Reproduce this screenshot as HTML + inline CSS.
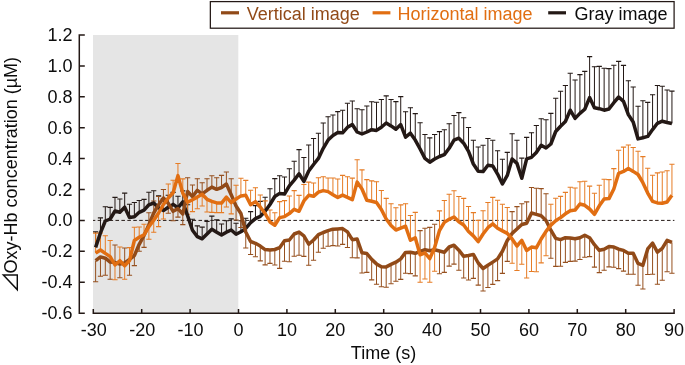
<!DOCTYPE html>
<html><head><meta charset="utf-8"><title>Oxy-Hb concentration</title>
<style>html,body{margin:0;padding:0;background:#fff;overflow:hidden}body{width:685px;height:365px;position:relative}</style></head>
<body>
<svg width="685" height="365" viewBox="0 0 685 365" style="display:block;position:absolute;left:0;top:0">
<rect x="0" y="0" width="685" height="365" fill="#ffffff"/>
<rect x="93" y="35.0" width="145.3" height="278.3" fill="#e5e5e5"/>
<line x1="93" y1="220.4" x2="674.4" y2="220.4" stroke="#231815" stroke-width="1.0" stroke-dasharray="3.55 2.38" stroke-dashoffset="1.24"/>
<path d="M95.62 247.4V231.9M100.46 232.9V217.9M105.31 221.0V206.8M110.15 219.0V207.4M114.99 211.0V197.4M119.84 212.2V199.0M124.68 207.2V193.1M129.52 217.5V204.2M134.36 216.8V202.5M139.21 212.3V200.5M144.05 210.1V199.4M148.89 204.8V192.3M153.74 203.0V190.8M158.58 207.8V195.8M163.42 210.6V198.6M168.26 207.3V195.3M173.11 204.4V192.4M177.95 207.8V196.2M182.79 201.9V190.9M187.64 215.8V204.8M192.48 230.3V219.3M197.32 236.6V225.9M202.17 238.8V227.1M207.01 234.0V221.4M211.85 229.3V216.1M216.69 232.2V219.9M221.54 235.1V224.0M226.38 232.2V220.8M231.22 230.0V218.9M236.07 234.2V223.2M240.91 231.8V220.8M245.75 228.3V218.2M250.60 222.7V211.6M255.44 218.6V205.6M260.28 216.4V201.4M265.12 211.2V197.2M269.97 204.5V188.7M274.81 196.5V178.6M279.65 193.4V175.7M284.50 194.0V177.0M289.34 185.8V168.8M294.18 180.1V161.3M299.03 173.8V149.6M303.87 181.4V157.5M308.71 171.0V145.0M313.56 164.5V138.5M318.40 158.4V133.2M323.24 148.3V123.0M328.08 140.1V116.7M332.93 135.5V115.0M337.77 132.6V111.6M342.61 132.8V110.2M347.46 127.3V103.3M352.30 124.5V101.0M357.14 132.0V108.8M361.99 134.0V109.8M366.83 132.0V106.0M371.67 129.7V101.7M376.51 130.4V102.2M381.36 127.2V99.5M386.20 123.0V95.9M391.04 125.9V99.5M395.89 129.2V101.6M400.73 124.6V96.6M405.57 137.1V111.7M410.42 133.2V107.7M415.26 140.1V113.6M420.10 149.0V122.8M424.94 158.4V134.5M429.79 162.2V137.9M434.63 159.0V134.5M439.47 156.5V131.6M444.32 154.6V129.8M449.16 148.3V123.7M454.00 140.1V115.5M458.85 138.2V112.6M463.69 143.2V117.7M468.53 151.4V127.5M473.37 164.0V140.3M478.22 171.3V147.0M483.06 171.6V145.3M487.90 165.3V138.5M492.75 165.9V140.3M497.59 174.1V150.8M502.43 184.0V159.2M507.27 175.4V152.4M512.12 159.0V133.7M516.96 163.4V140.3M521.80 178.3V158.1M526.65 158.8V137.4M531.49 157.3V132.7M536.33 152.5V125.5M541.18 145.2V118.7M546.02 148.0V119.8M550.86 144.0V113.4M555.70 131.5V98.2M560.55 126.2V91.2M565.39 121.5V85.5M570.23 110.2V73.3M575.08 118.4V80.0M579.92 113.4V74.6M584.76 109.2V71.4M589.61 97.6V56.6M594.45 107.7V66.7M599.29 108.7V66.4M604.13 110.2V68.3M608.98 109.0V68.6M613.82 102.7V65.2M618.66 97.0V61.4M623.51 101.4V65.4M628.35 114.6V80.7M633.19 122.0V87.0M638.04 138.9V106.2M642.88 137.7V100.8M647.72 136.4V102.4M652.57 129.6V94.7M657.41 123.3V85.5M662.25 121.2V86.3M667.09 122.5V90.0M671.94 123.5V91.1" fill="none" stroke="#231815" stroke-width="1.0"/><path d="M93.02 231.9H98.22M97.86 217.9H103.06M102.71 206.8H107.91M107.55 207.4H112.75M112.39 197.4H117.59M117.24 199.0H122.44M122.08 193.1H127.28M126.92 204.2H132.12M131.76 202.5H136.96M136.61 200.5H141.81M141.45 199.4H146.65M146.29 192.3H151.49M151.14 190.8H156.34M155.98 195.8H161.18M160.82 198.6H166.02M165.66 195.3H170.86M170.51 192.4H175.71M175.35 196.2H180.55M180.19 190.9H185.39M185.04 204.8H190.24M189.88 219.3H195.08M194.72 225.9H199.92M199.57 227.1H204.77M204.41 221.4H209.61M209.25 216.1H214.45M214.09 219.9H219.29M218.94 224.0H224.14M223.78 220.8H228.98M228.62 218.9H233.82M233.47 223.2H238.67M238.31 220.8H243.51M243.15 218.2H248.35M248.00 211.6H253.20M252.84 205.6H258.04M257.68 201.4H262.88M262.52 197.2H267.73M267.37 188.7H272.57M272.21 178.6H277.41M277.05 175.7H282.25M281.90 177.0H287.10M286.74 168.8H291.94M291.58 161.3H296.78M296.43 149.6H301.63M301.27 157.5H306.47M306.11 145.0H311.31M310.95 138.5H316.16M315.80 133.2H321.00M320.64 123.0H325.84M325.48 116.7H330.68M330.33 115.0H335.53M335.17 111.6H340.37M340.01 110.2H345.21M344.86 103.3H350.06M349.70 101.0H354.90M354.54 108.8H359.74M359.38 109.8H364.59M364.23 106.0H369.43M369.07 101.7H374.27M373.91 102.2H379.11M378.76 99.5H383.96M383.60 95.9H388.80M388.44 99.5H393.64M393.29 101.6H398.49M398.13 96.6H403.33M402.97 111.7H408.17M407.81 107.7H413.02M412.66 113.6H417.86M417.50 122.8H422.70M422.34 134.5H427.54M427.19 137.9H432.39M432.03 134.5H437.23M436.87 131.6H442.07M441.72 129.8H446.92M446.56 123.7H451.76M451.40 115.5H456.60M456.25 112.6H461.45M461.09 117.7H466.29M465.93 127.5H471.13M470.77 140.3H475.97M475.62 147.0H480.82M480.46 145.3H485.66M485.30 138.5H490.50M490.15 140.3H495.35M494.99 150.8H500.19M499.83 159.2H505.03M504.67 152.4H509.88M509.52 133.7H514.72M514.36 140.3H519.56M519.20 158.1H524.40M524.05 137.4H529.25M528.89 132.7H534.09M533.73 125.5H538.93M538.58 118.7H543.78M543.42 119.8H548.62M548.26 113.4H553.46M553.10 98.2H558.30M557.95 91.2H563.15M562.79 85.5H567.99M567.63 73.3H572.83M572.48 80.0H577.68M577.32 74.6H582.52M582.16 71.4H587.36M587.01 56.6H592.21M591.85 66.7H597.05M596.69 66.4H601.89M601.53 68.3H606.74M606.38 68.6H611.58M611.22 65.2H616.42M616.06 61.4H621.26M620.91 65.4H626.11M625.75 80.7H630.95M630.59 87.0H635.79M635.44 106.2H640.64M640.28 100.8H645.48M645.12 102.4H650.32M649.97 94.7H655.17M654.81 85.5H660.01M659.65 86.3H664.85M664.49 90.0H669.69M669.34 91.1H674.54" fill="none" stroke="#231815" stroke-width="1.1"/>
<path d="M95.62 260.7V281.8M100.46 256.9V276.2M105.31 258.2V275.2M110.15 262.0V279.3M114.99 262.5V245.0M119.84 264.0V277.7M124.68 263.0V248.0M129.52 259.5V275.2M134.36 255.6V265.6M139.21 244.3V251.3M144.05 235.4V247.4M148.89 224.7V212.7M153.74 213.0V201.0M158.58 204.7V196.5M163.42 198.0V189.5M168.26 203.3V213.3M173.11 211.3V220.8M177.95 208.6V217.1M182.79 214.0V224.6M187.64 191.5V177.7M192.48 196.6V185.0M197.32 190.3V178.7M202.17 193.8V182.7M207.01 190.3V178.7M211.85 187.1V175.8M216.69 189.3V177.7M221.54 187.5V175.4M226.38 184.0V172.0M231.22 194.7V178.7M236.07 206.0V220.0M240.91 213.5V227.5M245.75 232.0V248.0M250.60 241.5V254.5M255.44 243.3V256.7M260.28 246.1V260.9M265.12 249.6V264.9M269.97 250.0V263.4M274.81 249.5V265.0M279.65 247.7V268.4M284.50 240.8V261.2M289.34 240.0V261.7M294.18 234.0V256.2M299.03 232.1V255.2M303.87 235.9V256.4M308.71 244.2V265.3M313.56 240.0V260.2M318.40 234.7V252.3M323.24 232.5V248.2M328.08 230.7V246.2M332.93 229.2V245.6M337.77 228.9V246.0M342.61 228.6V244.4M347.46 231.9V247.5M352.30 239.7V257.7M357.14 239.0V257.9M361.99 252.8V273.0M366.83 253.5V272.4M371.67 259.4V279.9M376.51 263.9V284.3M381.36 266.7V286.8M386.20 266.9V287.2M391.04 264.4V283.7M395.89 262.2V281.3M400.73 258.9V279.4M405.57 252.4V273.3M410.42 252.3V273.6M415.26 253.3V275.9M420.10 251.3V230.6M424.94 249.7V228.3M429.79 250.8V227.4M434.63 249.7V224.3M439.47 251.0V273.7M444.32 252.3V272.4M449.16 247.0V266.1M454.00 245.2V264.1M458.85 250.2V270.2M463.69 256.3V278.0M468.53 255.5V280.0M473.37 254.4V278.4M478.22 263.0V285.1M483.06 268.5V291.0M487.90 265.2V287.5M492.75 262.1V284.4M497.59 258.9V280.6M502.43 251.3V273.4M507.27 240.5V261.4M512.12 233.4V211.6M516.96 229.0V206.6M521.80 224.5V203.8M526.65 223.2V201.9M531.49 213.0V187.5M536.33 214.4V188.2M541.18 215.8V188.6M546.02 220.5V193.7M550.86 230.2V258.2M555.70 238.4V266.4M560.55 239.6V266.2M565.39 237.7V262.4M570.23 238.0V261.4M575.08 238.7V261.1M579.92 237.7V259.5M584.76 235.2V257.2M589.61 237.7V256.6M594.45 244.7V267.1M599.29 250.3V272.6M604.13 249.2V270.3M608.98 246.4V266.9M613.82 247.0V267.3M618.66 249.2V268.6M623.51 250.4V271.1M628.35 253.3V274.2M633.19 253.3V274.2M638.04 263.4V285.2M642.88 265.3V289.0M647.72 248.9V274.5M652.57 243.2V274.2M657.41 252.1V284.2M662.25 248.3V280.2M667.09 240.3V271.7M671.94 242.4V273.2" fill="none" stroke="#96501f" stroke-width="1.0"/><path d="M93.02 281.8H98.22M97.86 276.2H103.06M102.71 275.2H107.91M107.55 279.3H112.75M112.39 245.0H117.59M117.24 277.7H122.44M122.08 248.0H127.28M126.92 275.2H132.12M131.76 265.6H136.96M136.61 251.3H141.81M141.45 247.4H146.65M146.29 212.7H151.49M151.14 201.0H156.34M155.98 196.5H161.18M160.82 189.5H166.02M165.66 213.3H170.86M170.51 220.8H175.71M175.35 217.1H180.55M180.19 224.6H185.39M185.04 177.7H190.24M189.88 185.0H195.08M194.72 178.7H199.92M199.57 182.7H204.77M204.41 178.7H209.61M209.25 175.8H214.45M214.09 177.7H219.29M218.94 175.4H224.14M223.78 172.0H228.98M228.62 178.7H233.82M233.47 220.0H238.67M238.31 227.5H243.51M243.15 248.0H248.35M248.00 254.5H253.20M252.84 256.7H258.04M257.68 260.9H262.88M262.52 264.9H267.73M267.37 263.4H272.57M272.21 265.0H277.41M277.05 268.4H282.25M281.90 261.2H287.10M286.74 261.7H291.94M291.58 256.2H296.78M296.43 255.2H301.63M301.27 256.4H306.47M306.11 265.3H311.31M310.95 260.2H316.16M315.80 252.3H321.00M320.64 248.2H325.84M325.48 246.2H330.68M330.33 245.6H335.53M335.17 246.0H340.37M340.01 244.4H345.21M344.86 247.5H350.06M349.70 257.7H354.90M354.54 257.9H359.74M359.38 273.0H364.59M364.23 272.4H369.43M369.07 279.9H374.27M373.91 284.3H379.11M378.76 286.8H383.96M383.60 287.2H388.80M388.44 283.7H393.64M393.29 281.3H398.49M398.13 279.4H403.33M402.97 273.3H408.17M407.81 273.6H413.02M412.66 275.9H417.86M417.50 230.6H422.70M422.34 228.3H427.54M427.19 227.4H432.39M432.03 224.3H437.23M436.87 273.7H442.07M441.72 272.4H446.92M446.56 266.1H451.76M451.40 264.1H456.60M456.25 270.2H461.45M461.09 278.0H466.29M465.93 280.0H471.13M470.77 278.4H475.97M475.62 285.1H480.82M480.46 291.0H485.66M485.30 287.5H490.50M490.15 284.4H495.35M494.99 280.6H500.19M499.83 273.4H505.03M504.67 261.4H509.88M509.52 211.6H514.72M514.36 206.6H519.56M519.20 203.8H524.40M524.05 201.9H529.25M528.89 187.5H534.09M533.73 188.2H538.93M538.58 188.6H543.78M543.42 193.7H548.62M548.26 258.2H553.46M553.10 266.4H558.30M557.95 266.2H563.15M562.79 262.4H567.99M567.63 261.4H572.83M572.48 261.1H577.68M577.32 259.5H582.52M582.16 257.2H587.36M587.01 256.6H592.21M591.85 267.1H597.05M596.69 272.6H601.89M601.53 270.3H606.74M606.38 266.9H611.58M611.22 267.3H616.42M616.06 268.6H621.26M620.91 271.1H626.11M625.75 274.2H630.95M630.59 274.2H635.79M635.44 285.2H640.64M640.28 289.0H645.48M645.12 274.5H650.32M649.97 274.2H655.17M654.81 284.2H660.01M659.65 280.2H664.85M664.49 271.7H669.69M669.34 273.2H674.54" fill="none" stroke="#96501f" stroke-width="1.1"/>
<path d="M95.62 253.1V233.1M100.46 250.0V233.0M105.31 253.4V235.7M110.15 256.6V240.5M114.99 265.0V279.8M119.84 260.7V247.0M124.68 265.8V279.3M129.52 260.6V247.6M134.36 240.5V227.2M139.21 237.3V227.0M144.05 234.8V224.3M148.89 226.6V239.2M153.74 220.3V232.3M158.58 213.0V226.6M163.42 204.5V219.0M168.26 198.0V184.0M173.11 192.8V180.2M177.95 175.6V163.5M182.79 193.1V178.9M187.64 202.3V214.3M192.48 199.7V211.6M197.32 197.1V208.8M202.17 194.3V206.0M207.01 199.3V212.0M211.85 201.4V212.4M216.69 202.9V212.6M221.54 203.1V212.6M226.38 197.2V207.0M231.22 202.6V213.9M236.07 199.0V185.2M240.91 195.9V178.2M245.75 195.3V180.4M250.60 204.7V190.2M255.44 201.6V187.7M260.28 207.0V195.0M265.12 213.5V200.9M269.97 222.0V210.0M274.81 225.2V212.8M279.65 217.6V201.6M284.50 216.6V200.6M289.34 213.6V196.0M294.18 209.3V190.6M299.03 211.3V195.4M303.87 200.9V184.5M308.71 195.3V182.1M313.56 196.3V183.0M318.40 192.2V177.7M323.24 190.6V176.7M328.08 191.6V178.0M332.93 194.7V178.0M337.77 197.5V179.0M342.61 195.2V175.4M347.46 197.4V176.7M352.30 199.7V178.1M357.14 182.1V159.8M361.99 189.0V169.9M366.83 200.3V179.6M371.67 201.3V180.9M376.51 202.5V181.7M381.36 209.5V190.5M386.20 219.0V198.4M391.04 225.5V203.7M395.89 230.0V207.7M400.73 228.1V204.9M405.57 226.2V203.7M410.42 240.3V215.5M415.26 237.8V212.4M420.10 254.8V282.2M424.94 252.9V279.0M429.79 258.6V282.2M434.63 247.5V271.2M439.47 230.5V210.9M444.32 222.4V200.5M449.16 219.3V194.2M454.00 217.0V190.7M458.85 221.8V196.5M463.69 225.0V198.4M468.53 231.5V206.5M473.37 235.9V212.6M478.22 241.6V220.4M483.06 234.0V210.7M487.90 227.7V202.5M492.75 223.9V197.4M497.59 228.3V200.3M502.43 230.9V204.3M507.27 233.4V207.5M512.12 239.0V263.3M516.96 246.0V270.5M521.80 240.4V264.2M526.65 250.5V278.0M531.49 247.1V271.5M536.33 247.8V271.7M541.18 239.0V262.9M546.02 231.4V255.7M550.86 225.1V204.3M555.70 220.8V198.3M560.55 217.6V196.4M565.39 213.8V192.4M570.23 210.7V187.2M575.08 210.1V188.0M579.92 204.0V181.7M584.76 205.3V181.3M589.61 209.0V186.1M594.45 214.3V193.3M599.29 205.8V185.2M604.13 199.1V179.2M608.98 198.6V179.6M613.82 189.0V168.6M618.66 173.3V150.3M623.51 171.4V147.1M628.35 168.6V145.0M633.19 171.4V147.5M638.04 174.5V151.3M642.88 182.7V156.6M647.72 193.1V168.2M652.57 201.4V175.2M657.41 202.9V172.9M662.25 203.2V172.0M667.09 202.0V170.8M671.94 195.2V164.2" fill="none" stroke="#e67c25" stroke-width="1.0"/><path d="M93.02 233.1H98.22M97.86 233.0H103.06M102.71 235.7H107.91M107.55 240.5H112.75M112.39 279.8H117.59M117.24 247.0H122.44M122.08 279.3H127.28M126.92 247.6H132.12M131.76 227.2H136.96M136.61 227.0H141.81M141.45 224.3H146.65M146.29 239.2H151.49M151.14 232.3H156.34M155.98 226.6H161.18M160.82 219.0H166.02M165.66 184.0H170.86M170.51 180.2H175.71M175.35 163.5H180.55M180.19 178.9H185.39M185.04 214.3H190.24M189.88 211.6H195.08M194.72 208.8H199.92M199.57 206.0H204.77M204.41 212.0H209.61M209.25 212.4H214.45M214.09 212.6H219.29M218.94 212.6H224.14M223.78 207.0H228.98M228.62 213.9H233.82M233.47 185.2H238.67M238.31 178.2H243.51M243.15 180.4H248.35M248.00 190.2H253.20M252.84 187.7H258.04M257.68 195.0H262.88M262.52 200.9H267.73M267.37 210.0H272.57M272.21 212.8H277.41M277.05 201.6H282.25M281.90 200.6H287.10M286.74 196.0H291.94M291.58 190.6H296.78M296.43 195.4H301.63M301.27 184.5H306.47M306.11 182.1H311.31M310.95 183.0H316.16M315.80 177.7H321.00M320.64 176.7H325.84M325.48 178.0H330.68M330.33 178.0H335.53M335.17 179.0H340.37M340.01 175.4H345.21M344.86 176.7H350.06M349.70 178.1H354.90M354.54 159.8H359.74M359.38 169.9H364.59M364.23 179.6H369.43M369.07 180.9H374.27M373.91 181.7H379.11M378.76 190.5H383.96M383.60 198.4H388.80M388.44 203.7H393.64M393.29 207.7H398.49M398.13 204.9H403.33M402.97 203.7H408.17M407.81 215.5H413.02M412.66 212.4H417.86M417.50 282.2H422.70M422.34 279.0H427.54M427.19 282.2H432.39M432.03 271.2H437.23M436.87 210.9H442.07M441.72 200.5H446.92M446.56 194.2H451.76M451.40 190.7H456.60M456.25 196.5H461.45M461.09 198.4H466.29M465.93 206.5H471.13M470.77 212.6H475.97M475.62 220.4H480.82M480.46 210.7H485.66M485.30 202.5H490.50M490.15 197.4H495.35M494.99 200.3H500.19M499.83 204.3H505.03M504.67 207.5H509.88M509.52 263.3H514.72M514.36 270.5H519.56M519.20 264.2H524.40M524.05 278.0H529.25M528.89 271.5H534.09M533.73 271.7H538.93M538.58 262.9H543.78M543.42 255.7H548.62M548.26 204.3H553.46M553.10 198.3H558.30M557.95 196.4H563.15M562.79 192.4H567.99M567.63 187.2H572.83M572.48 188.0H577.68M577.32 181.7H582.52M582.16 181.3H587.36M587.01 186.1H592.21M591.85 193.3H597.05M596.69 185.2H601.89M601.53 179.2H606.74M606.38 179.6H611.58M611.22 168.6H616.42M616.06 150.3H621.26M620.91 147.1H626.11M625.75 145.0H630.95M630.59 147.5H635.79M635.44 151.3H640.64M640.28 156.6H645.48M645.12 168.2H650.32M649.97 175.2H655.17M654.81 172.9H660.01M659.65 172.0H664.85M664.49 170.8H669.69M669.34 164.2H674.54" fill="none" stroke="#e67c25" stroke-width="1.1"/>
<polyline points="95.62,247.4 100.46,232.9 105.31,221.0 110.15,219.0 114.99,211.0 119.84,212.2 124.68,207.2 129.52,217.5 134.36,216.8 139.21,212.3 144.05,210.1 148.89,204.8 153.74,203.0 158.58,207.8 163.42,210.6 168.26,207.3 173.11,204.4 177.95,207.8 182.79,201.9 187.64,215.8 192.48,230.3 197.32,236.6 202.17,238.8 207.01,234.0 211.85,229.3 216.69,232.2 221.54,235.1 226.38,232.2 231.22,230.0 236.07,234.2 240.91,231.8 245.75,228.3 250.60,222.7 255.44,218.6 260.28,216.4 265.12,211.2 269.97,204.5 274.81,196.5 279.65,193.4 284.50,194.0 289.34,185.8 294.18,180.1 299.03,173.8 303.87,181.4 308.71,171.0 313.56,164.5 318.40,158.4 323.24,148.3 328.08,140.1 332.93,135.5 337.77,132.6 342.61,132.8 347.46,127.3 352.30,124.5 357.14,132.0 361.99,134.0 366.83,132.0 371.67,129.7 376.51,130.4 381.36,127.2 386.20,123.0 391.04,125.9 395.89,129.2 400.73,124.6 405.57,137.1 410.42,133.2 415.26,140.1 420.10,149.0 424.94,158.4 429.79,162.2 434.63,159.0 439.47,156.5 444.32,154.6 449.16,148.3 454.00,140.1 458.85,138.2 463.69,143.2 468.53,151.4 473.37,164.0 478.22,171.3 483.06,171.6 487.90,165.3 492.75,165.9 497.59,174.1 502.43,184.0 507.27,175.4 512.12,159.0 516.96,163.4 521.80,178.3 526.65,158.8 531.49,157.3 536.33,152.5 541.18,145.2 546.02,148.0 550.86,144.0 555.70,131.5 560.55,126.2 565.39,121.5 570.23,110.2 575.08,118.4 579.92,113.4 584.76,109.2 589.61,97.6 594.45,107.7 599.29,108.7 604.13,110.2 608.98,109.0 613.82,102.7 618.66,97.0 623.51,101.4 628.35,114.6 633.19,122.0 638.04,138.9 642.88,137.7 647.72,136.4 652.57,129.6 657.41,123.3 662.25,121.2 667.09,122.5 671.94,123.5" fill="none" stroke="#231815" stroke-width="3.5" stroke-linejoin="round" stroke-linecap="butt"/>
<polyline points="95.62,260.7 100.46,256.9 105.31,258.2 110.15,262.0 114.99,262.5 119.84,264.0 124.68,263.0 129.52,259.5 134.36,255.6 139.21,244.3 144.05,235.4 148.89,224.7 153.74,213.0 158.58,204.7 163.42,198.0 168.26,203.3 173.11,211.3 177.95,208.6 182.79,214.0 187.64,191.5 192.48,196.6 197.32,190.3 202.17,193.8 207.01,190.3 211.85,187.1 216.69,189.3 221.54,187.5 226.38,184.0 231.22,194.7 236.07,206.0 240.91,213.5 245.75,232.0 250.60,241.5 255.44,243.3 260.28,246.1 265.12,249.6 269.97,250.0 274.81,249.5 279.65,247.7 284.50,240.8 289.34,240.0 294.18,234.0 299.03,232.1 303.87,235.9 308.71,244.2 313.56,240.0 318.40,234.7 323.24,232.5 328.08,230.7 332.93,229.2 337.77,228.9 342.61,228.6 347.46,231.9 352.30,239.7 357.14,239.0 361.99,252.8 366.83,253.5 371.67,259.4 376.51,263.9 381.36,266.7 386.20,266.9 391.04,264.4 395.89,262.2 400.73,258.9 405.57,252.4 410.42,252.3 415.26,253.3 420.10,251.3 424.94,249.7 429.79,250.8 434.63,249.7 439.47,251.0 444.32,252.3 449.16,247.0 454.00,245.2 458.85,250.2 463.69,256.3 468.53,255.5 473.37,254.4 478.22,263.0 483.06,268.5 487.90,265.2 492.75,262.1 497.59,258.9 502.43,251.3 507.27,240.5 512.12,233.4 516.96,229.0 521.80,224.5 526.65,223.2 531.49,213.0 536.33,214.4 541.18,215.8 546.02,220.5 550.86,230.2 555.70,238.4 560.55,239.6 565.39,237.7 570.23,238.0 575.08,238.7 579.92,237.7 584.76,235.2 589.61,237.7 594.45,244.7 599.29,250.3 604.13,249.2 608.98,246.4 613.82,247.0 618.66,249.2 623.51,250.4 628.35,253.3 633.19,253.3 638.04,263.4 642.88,265.3 647.72,248.9 652.57,243.2 657.41,252.1 662.25,248.3 667.09,240.3 671.94,242.4" fill="none" stroke="#914a18" stroke-width="3.5" stroke-linejoin="round" stroke-linecap="butt"/>
<polyline points="95.62,253.1 100.46,250.0 105.31,253.4 110.15,256.6 114.99,265.0 119.84,260.7 124.68,265.8 129.52,260.6 134.36,240.5 139.21,237.3 144.05,234.8 148.89,226.6 153.74,220.3 158.58,213.0 163.42,204.5 168.26,198.0 173.11,192.8 177.95,175.6 182.79,193.1 187.64,202.3 192.48,199.7 197.32,197.1 202.17,194.3 207.01,199.3 211.85,201.4 216.69,202.9 221.54,203.1 226.38,197.2 231.22,202.6 236.07,199.0 240.91,195.9 245.75,195.3 250.60,204.7 255.44,201.6 260.28,207.0 265.12,213.5 269.97,222.0 274.81,225.2 279.65,217.6 284.50,216.6 289.34,213.6 294.18,209.3 299.03,211.3 303.87,200.9 308.71,195.3 313.56,196.3 318.40,192.2 323.24,190.6 328.08,191.6 332.93,194.7 337.77,197.5 342.61,195.2 347.46,197.4 352.30,199.7 357.14,182.1 361.99,189.0 366.83,200.3 371.67,201.3 376.51,202.5 381.36,209.5 386.20,219.0 391.04,225.5 395.89,230.0 400.73,228.1 405.57,226.2 410.42,240.3 415.26,237.8 420.10,254.8 424.94,252.9 429.79,258.6 434.63,247.5 439.47,230.5 444.32,222.4 449.16,219.3 454.00,217.0 458.85,221.8 463.69,225.0 468.53,231.5 473.37,235.9 478.22,241.6 483.06,234.0 487.90,227.7 492.75,223.9 497.59,228.3 502.43,230.9 507.27,233.4 512.12,239.0 516.96,246.0 521.80,240.4 526.65,250.5 531.49,247.1 536.33,247.8 541.18,239.0 546.02,231.4 550.86,225.1 555.70,220.8 560.55,217.6 565.39,213.8 570.23,210.7 575.08,210.1 579.92,204.0 584.76,205.3 589.61,209.0 594.45,214.3 599.29,205.8 604.13,199.1 608.98,198.6 613.82,189.0 618.66,173.3 623.51,171.4 628.35,168.6 633.19,171.4 638.04,174.5 642.88,182.7 647.72,193.1 652.57,201.4 657.41,202.9 662.25,203.2 667.09,202.0 671.94,195.2" fill="none" stroke="#e16e12" stroke-width="3.5" stroke-linejoin="round" stroke-linecap="butt"/>
<path d="M93.3 313.3H674.8M93.3 314V308.9M141.7 314V308.9M190.1 314V308.9M238.5 314V308.9M286.9 314V308.9M335.3 314V308.9M383.7 314V308.9M432.1 314V308.9M480.5 314V308.9M528.9 314V308.9M577.3 314V308.9M625.7 314V308.9M674.1 314V308.9" stroke="#231815" stroke-width="1.5" fill="none"/>
<path d="M79.3 34.2V314.05M79.3 313.3H84.8M79.3 282.2H84.8M79.3 251.3H84.8M79.3 220.4H84.8M79.3 189.5H84.8M79.3 158.6H84.8M79.3 127.7H84.8M79.3 96.8H84.8M79.3 65.9H84.8M79.3 35.0H84.8" stroke="#231815" stroke-width="1.5" fill="none"/>
<text x="93.8" y="335.7" text-anchor="middle" font-family="Liberation Sans, Noto Sans CJK JP, sans-serif" font-size="18" fill="#0c0c0c">-30</text>
<text x="142.2" y="335.7" text-anchor="middle" font-family="Liberation Sans, Noto Sans CJK JP, sans-serif" font-size="18" fill="#0c0c0c">-20</text>
<text x="190.6" y="335.7" text-anchor="middle" font-family="Liberation Sans, Noto Sans CJK JP, sans-serif" font-size="18" fill="#0c0c0c">-10</text>
<text x="238.5" y="335.7" text-anchor="middle" font-family="Liberation Sans, Noto Sans CJK JP, sans-serif" font-size="18" fill="#0c0c0c">0</text>
<text x="286.9" y="335.7" text-anchor="middle" font-family="Liberation Sans, Noto Sans CJK JP, sans-serif" font-size="18" fill="#0c0c0c">10</text>
<text x="335.3" y="335.7" text-anchor="middle" font-family="Liberation Sans, Noto Sans CJK JP, sans-serif" font-size="18" fill="#0c0c0c">20</text>
<text x="383.7" y="335.7" text-anchor="middle" font-family="Liberation Sans, Noto Sans CJK JP, sans-serif" font-size="18" fill="#0c0c0c">30</text>
<text x="432.1" y="335.7" text-anchor="middle" font-family="Liberation Sans, Noto Sans CJK JP, sans-serif" font-size="18" fill="#0c0c0c">40</text>
<text x="480.5" y="335.7" text-anchor="middle" font-family="Liberation Sans, Noto Sans CJK JP, sans-serif" font-size="18" fill="#0c0c0c">50</text>
<text x="528.9" y="335.7" text-anchor="middle" font-family="Liberation Sans, Noto Sans CJK JP, sans-serif" font-size="18" fill="#0c0c0c">60</text>
<text x="577.3" y="335.7" text-anchor="middle" font-family="Liberation Sans, Noto Sans CJK JP, sans-serif" font-size="18" fill="#0c0c0c">70</text>
<text x="625.7" y="335.7" text-anchor="middle" font-family="Liberation Sans, Noto Sans CJK JP, sans-serif" font-size="18" fill="#0c0c0c">80</text>
<text x="674.1" y="335.7" text-anchor="middle" font-family="Liberation Sans, Noto Sans CJK JP, sans-serif" font-size="18" fill="#0c0c0c">90</text>
<text x="72.5" y="319.3" text-anchor="end" font-family="Liberation Sans, Noto Sans CJK JP, sans-serif" font-size="18" fill="#0c0c0c">-0.6</text>
<text x="72.5" y="288.2" text-anchor="end" font-family="Liberation Sans, Noto Sans CJK JP, sans-serif" font-size="18" fill="#0c0c0c">-0.4</text>
<text x="72.5" y="257.3" text-anchor="end" font-family="Liberation Sans, Noto Sans CJK JP, sans-serif" font-size="18" fill="#0c0c0c">-0.2</text>
<text x="72.5" y="226.4" text-anchor="end" font-family="Liberation Sans, Noto Sans CJK JP, sans-serif" font-size="18" fill="#0c0c0c">0.0</text>
<text x="72.5" y="195.5" text-anchor="end" font-family="Liberation Sans, Noto Sans CJK JP, sans-serif" font-size="18" fill="#0c0c0c">0.2</text>
<text x="72.5" y="164.6" text-anchor="end" font-family="Liberation Sans, Noto Sans CJK JP, sans-serif" font-size="18" fill="#0c0c0c">0.4</text>
<text x="72.5" y="133.7" text-anchor="end" font-family="Liberation Sans, Noto Sans CJK JP, sans-serif" font-size="18" fill="#0c0c0c">0.6</text>
<text x="72.5" y="102.8" text-anchor="end" font-family="Liberation Sans, Noto Sans CJK JP, sans-serif" font-size="18" fill="#0c0c0c">0.8</text>
<text x="72.5" y="71.9" text-anchor="end" font-family="Liberation Sans, Noto Sans CJK JP, sans-serif" font-size="18" fill="#0c0c0c">1.0</text>
<text x="72.5" y="41.0" text-anchor="end" font-family="Liberation Sans, Noto Sans CJK JP, sans-serif" font-size="18" fill="#0c0c0c">1.2</text>
<text x="383.5" y="359.2" text-anchor="middle" font-family="Liberation Sans, Noto Sans CJK JP, sans-serif" font-size="18" fill="#0c0c0c">Time (s)</text>
<text transform="translate(17.9 293.6) rotate(-90) scale(1.24 1.15)" text-anchor="start" font-family="Liberation Sans, Noto Sans CJK JP, sans-serif" font-size="18" fill="#0c0c0c">⊿</text>
<text transform="translate(16.7 273.4) rotate(-90)" text-anchor="start" font-family="Liberation Sans, Noto Sans CJK JP, sans-serif" font-size="18" fill="#0c0c0c">Oxy-Hb concentration (µM)</text>
<rect x="210.35" y="1.6" width="463.75" height="26.6" fill="#fff" stroke="#231815" stroke-width="1.25"/>
<line x1="221.0" y1="12.8" x2="239.0" y2="12.8" stroke="#914a18" stroke-width="3.2"/>
<text x="246.8" y="19.6" font-family="Liberation Sans, Noto Sans CJK JP, sans-serif" font-size="18" fill="#914a18">Vertical image</text>
<line x1="372.6" y1="12.8" x2="390.4" y2="12.8" stroke="#e16e12" stroke-width="3.2"/>
<text x="397.5" y="19.6" font-family="Liberation Sans, Noto Sans CJK JP, sans-serif" font-size="18" fill="#e16e12">Horizontal image</text>
<line x1="548.2" y1="12.8" x2="566.0" y2="12.8" stroke="#231815" stroke-width="3.2"/>
<text x="574.6" y="19.6" font-family="Liberation Sans, Noto Sans CJK JP, sans-serif" font-size="18" fill="#0c0c0c">Gray image</text>
</svg>
</body></html>
